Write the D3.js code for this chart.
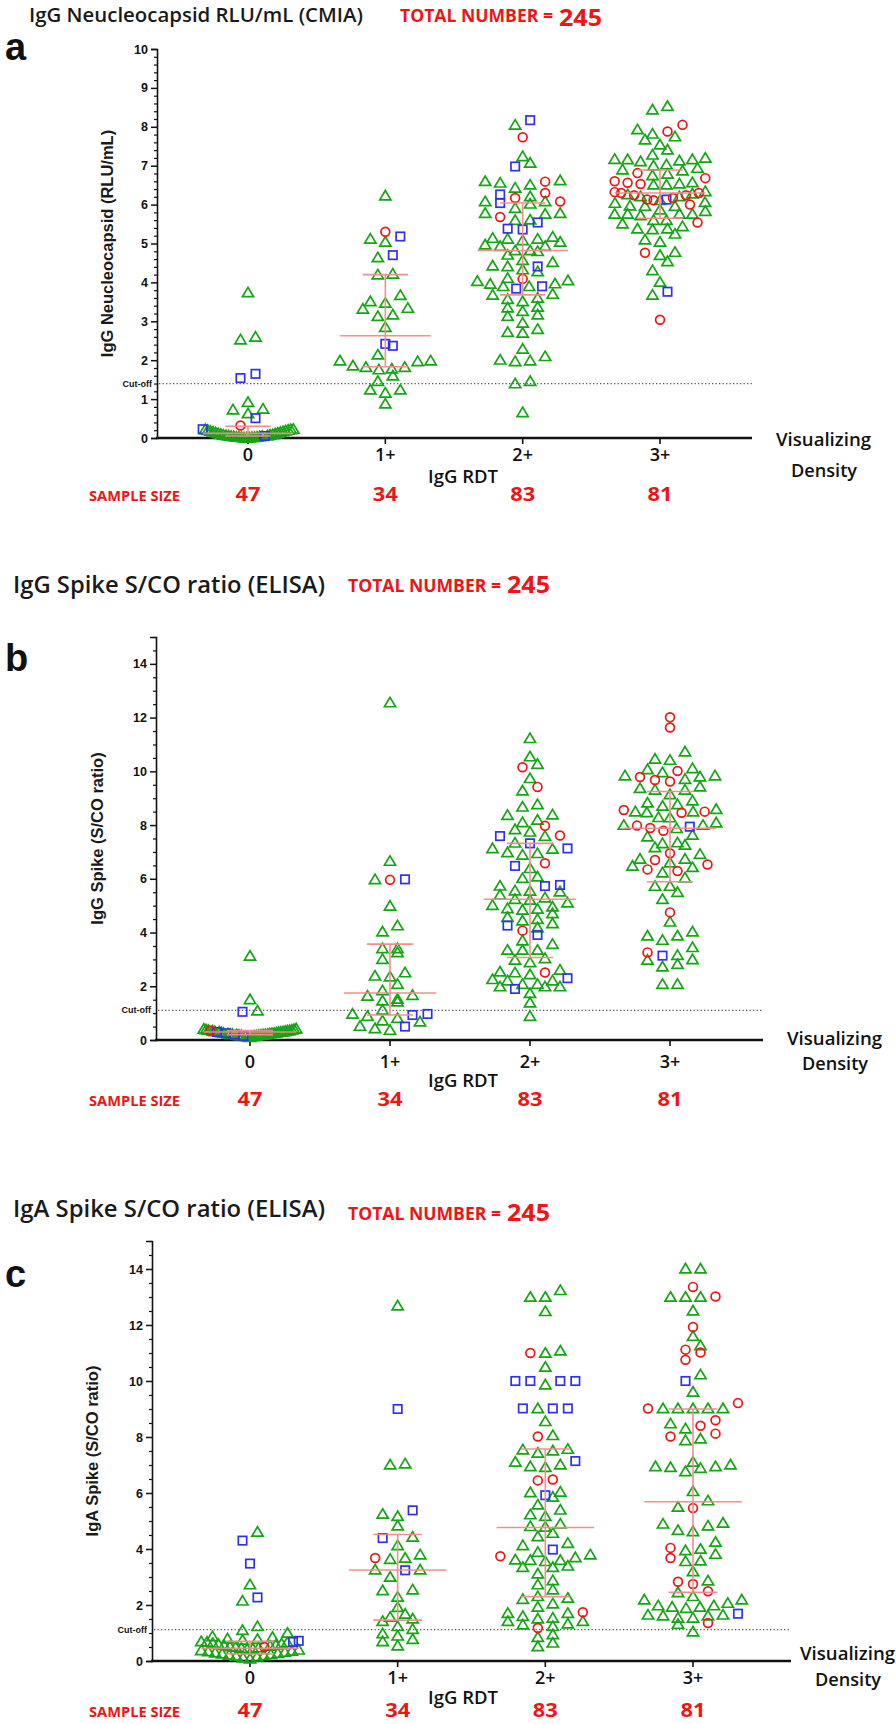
<!DOCTYPE html>
<html><head><meta charset="utf-8">
<script src="https://cdn.jsdelivr.net/npm/d3@7"></script>
<style>body{margin:0;background:#fff} svg{display:block;background:#fff}</style>
</head><body>
<svg id="chart" width="896" height="1724"></svg>
<script>
// ---------------- DATA ----------------
const categories = ["0", "1+", "2+", "3+"];
const sampleSizes = [47, 34, 83, 81];
const totalNumber = 245;

// Panel a: IgG Nucleocapsid (RLU/mL)
const nucTicks = [0,1,2,3,4,5,6,7,8,9,10];
const nucCutoff = 1.4;
const nucTriangles = [
  [3.74,2.6,2.53,0.92,0.75,0.73,0.63,
   0.23,0.22,0.22,0.21,0.2,0.19,0.18,0.17,0.16,0.15,0.14,0.13,0.12,0.11,0.1,0.09,0.08,0.08,0.07,0.06,
   0.06,0.05,0.05,0.04,0.04,0.03,0.03,0.03,0.02,0.02,0.02,0.01,0.01,0.01],
  [6.23,5.12,5.04,4.64,4.22,4.2,3.67,3.51,3.47,3.34,3.32,3.17,3.13,2.85,2.14,1.99,1.99,1.97,1.86,1.82,
   1.82,1.78,1.76,1.6,1.46,1.24,1.24,1.16,0.88],
  [8.05,7.24,7.07,6.6,6.56,6.43,6.51,6.62,6.21,6.08,6.02,6.08,5.91,5.78,5.76,5.78,5.61,5.6,5.14,5.12,
   5.04,5.08,5.12,5.17,4.97,4.93,4.82,4.71,4.8,4.82,4.93,4.57,4.43,4.28,4.33,4.41,4.52,4.03,3.96,3.9,
   3.9,3.97,4.05,4.11,3.7,3.68,3.6,3.51,3.57,3.37,3.35,3.26,3.13,3.17,2.96,2.8,2.7,2.72,2.29,2.01,
   1.97,1.99,2.1,1.4,1.46,0.66],
  [8.44,8.53,7.75,7.93,7.82,7.67,7.54,7.41,7.17,7.16,7.11,7.2,7.28,7.13,7.16,7.0,6.9,6.94,7.03,6.87,
   6.79,6.75,6.51,6.51,6.54,6.57,6.26,6.21,6.34,6.28,6.06,6.04,6.11,6.21,5.96,5.87,5.96,5.97,5.76,5.76,
   5.72,5.76,5.76,5.83,5.6,5.51,5.38,5.36,5.38,5.44,5.6,5.25,5.04,5.1,4.7,4.78,4.54,4.31,4.01,3.68]
];
const nucSquares = [
  [1.65,1.54,0.51,0.225,0.05],
  [5.18,4.7,2.42,2.37],
  [8.17,6.98,6.26,6.04,5.54,5.38,5.36,4.41,3.9,3.84],
  [6.13,3.76]
];
const nucCircles = [
  [0.32],
  [5.3],
  [7.73,6.59,6.3,6.17,6.08,5.68,4.09],
  [8.05,7.88,6.81,6.68,6.6,6.56,6.53,6.32,6.3,6.3,6.24,6.13,6.17,6.24,6.0,6.11,5.54,4.76,3.04]
];
const nucMedian = [0.12, 2.63, 4.82, 6.3];
const nucQ1 = [0.05, 1.83, 3.68, 5.65];
const nucQ3 = [0.3, 4.2, 6.04, 6.89];

// Panel b: IgG Spike (S/CO ratio)
const sgTicks = [0,2,4,6,8,10,12,14];
const sgCutoff = 1.1;
const sgTriangles = [
  [3.13,1.51,1.09,
   0.42,0.41,0.4,0.39,0.38,0.37,0.36,0.35,0.34,0.33,0.32,0.31,0.3,0.3,0.29,0.28,0.27,0.26,0.26,0.25,
   0.24,0.24,0.23,0.22,0.22,0.21,0.2,0.2,0.19,0.18,0.18,0.17,0.16,0.15,0.14,0.13,0.12,0.1],
  [12.56,6.66,5.98,4.99,4.26,4.03,3.41,3.26,3.41,3.01,2.39,2.36,2.51,2.08,1.67,1.53,1.43,1.46,1.64,1.84,
   1.12,0.97,0.89,0.81,0.68,0.72,0.37,0.43,0.52],
  [11.23,10.55,10.27,9.74,9.28,8.68,8.77,8.37,8.39,8.19,8.1,7.75,7.84,7.59,7.34,6.98,6.89,6.95,7.11,7.13,
   6.39,6.02,6.08,5.74,5.55,5.52,5.56,5.4,5.21,5.3,5.11,5.24,5.02,4.88,4.84,4.9,4.96,4.71,4.57,4.5,
   4.44,4.18,4.34,3.7,3.57,3.35,3.35,3.35,3.04,2.98,2.89,2.54,2.61,2.44,2.51,2.21,2.26,2.08,1.99,1.99,
   1.99,2.08,2.21,1.74,1.39,0.89],
  [10.73,10.42,10.46,10.11,10.07,9.71,9.84,9.8,9.84,9.96,9.31,9.37,9.43,9.31,9.14,8.91,8.77,8.71,8.83,8.59,
   8.5,8.47,8.5,8.28,8.29,8.09,8.0,8.0,7.88,7.57,7.63,7.35,7.26,7.32,7.17,6.74,6.43,6.6,6.74,6.92,
   6.48,6.23,6.04,5.73,5.73,5.5,5.24,4.4,3.88,3.72,3.88,4.03,3.45,3.0,3.16,2.98,2.73,2.82,2.08,2.08]
];
const sgSquares = [
  [1.05,0.3,0.25,0.2,0.15],
  [5.98,0.97,0.93,0.5],
  [7.59,7.32,7.13,6.48,5.77,5.73,4.26,3.91,2.3,1.9],
  [7.94,3.14]
];
const sgCircles = [
  [0.35],
  [5.96],
  [10.15,9.42,7.97,7.61,6.58,4.07,2.51],
  [12.01,11.63,10.01,9.62,9.68,9.79,8.5,8.46,8.56,7.98,7.89,7.79,6.95,6.7,6.53,6.29,6.35,4.75,3.26]
];
const sgMedian = [0.3, 1.75, 5.24, 7.88];
const sgQ1 = [0.2, 0.93, 3.07, 5.89];
const sgQ3 = [0.35, 3.57, 7.32, 9.25];

// Panel c: IgA Spike (S/CO ratio)
const saTicks = [0,2,4,6,8,10,12,14];
const saCutoff = 1.12;
const saTriangles = [
  [4.61,2.73,2.15,1.24,1.1,1.0,0.88,0.85,0.8,0.78,0.75,0.7,0.68,0.66,0.64,0.62,0.6,0.58,0.56,0.54,
   0.52,0.5,0.48,0.46,0.44,0.42,0.4,0.38,0.36,0.34,0.32,0.3,0.28,0.26,0.24,0.22,0.2,0.18,0.15,0.12,0.08],
  [12.69,7.01,7.05,5.17,5.25,4.83,4.43,4.13,3.68,3.64,3.8,3.26,3.26,3.0,2.55,2.52,2.29,1.92,1.57,1.68,
   1.24,1.42,1.51,1.14,0.98,0.9,0.78,0.7,0.55],
  [13.24,13.0,13.0,12.49,11.08,11.0,10.5,9.87,9.02,8.56,8.06,7.55,7.43,7.51,7.57,7.01,6.92,6.95,7.11,6.02,
   5.86,6.04,5.58,5.4,5.23,5.17,4.9,4.79,4.81,4.45,4.57,4.13,4.21,3.8,3.7,3.6,3.56,3.6,3.62,3.89,
   3.35,3.35,3.4,3.12,2.88,2.73,2.55,2.25,2.21,2.31,1.93,2.05,1.71,1.6,1.54,1.51,1.71,1.42,1.33,1.24,
   1.42,1.3,0.95,0.85,0.65,0.52],
  [14.01,14.01,13.0,13.0,13.0,12.51,11.6,11.27,10.23,9.61,9.02,9.02,9.02,9.02,9.02,8.3,8.48,7.88,7.94,7.11,
   6.95,6.92,6.77,6.89,6.95,7.01,6.06,5.73,5.5,4.93,4.83,4.63,4.67,4.9,4.25,3.95,4.0,3.82,3.56,3.58,
   3.2,2.87,2.45,2.19,1.93,2.07,1.98,1.98,2.19,2.31,1.89,1.93,1.65,1.54,1.54,1.62,1.62,1.65,1.05,1.32]
];
const saSquares = [
  [4.3,3.48,2.27,0.72,0.68],
  [9.0,5.38,4.39,3.24],
  [10.0,10.0,10.0,10.0,9.02,9.02,9.02,7.14,5.92,3.98],
  [10.0,1.69]
];
const saCircles = [
  [0.5],
  [3.68],
  [11.0,8.02,6.48,6.45,3.74,1.74,1.18],
  [13.36,13.02,11.93,11.12,11.02,10.76,9.21,9.02,8.6,8.4,8.02,8.12,5.46,4.04,3.68,2.75,2.83,2.49,1.36]
];
const saMedian = [0.45, 3.25, 4.77, 5.69];
const saQ1 = [0.25, 1.46, 2.3, 2.45];
const saQ3 = [0.7, 4.52, 7.57, 9.0];

// ---------------- LAYOUT / STYLE ----------------
const GREEN = "#14a514", BLUE = "#3030ee", RED = "#ee1515", PINK = "#f38a8a";
const CAL = "'Open Sans', 'Noto Sans', sans-serif";
const ARIAL = "'Liberation Sans', Arial, sans-serif";

const panels = [
  {letter:"a", title:"IgG Neucleocapsid RLU/mL (CMIA)", yLabel:"IgG Neucleocapsid (RLU/mL)",
   tri:nucTriangles, sq:nucSquares, ci:nucCircles, med:nucMedian, q1:nucQ1, q3:nucQ3,
   ticks:nucTicks, cutoff:nucCutoff, yMax:10, minorStep:0.2,
   axisX:157, xEnd:752, y0:438, yTop:49, catRange:[248,660],
   titleX:29, titleY:22, titleW:334, titleFont:20, totalX:400, totalY:22, numY:26, letterY:60,
   yLabelX:113, catY:461, rdtY:483, ssY:501, visX:776, visY:446, denY:477},
  {letter:"b", title:"IgG Spike S/CO ratio (ELISA)", yLabel:"IgG Spike (S/CO ratio)",
   tri:sgTriangles, sq:sgSquares, ci:sgCircles, med:sgMedian, q1:sgQ1, q3:sgQ3,
   ticks:sgTicks, cutoff:sgCutoff, yMax:15, minorStep:0.5,
   axisX:156, xEnd:763, y0:1040, yTop:637, catRange:[250,670],
   titleX:13, titleY:593, titleW:312, titleFont:23, totalX:348, totalY:592, numY:593, letterY:671,
   yLabelX:103, catY:1068, rdtY:1087, ssY:1106, visX:787, visY:1045, denY:1070},
  {letter:"c", title:"IgA Spike S/CO ratio (ELISA)", yLabel:"IgA Spike (S/CO ratio)",
   tri:saTriangles, sq:saSquares, ci:saCircles, med:saMedian, q1:saQ1, q3:saQ3,
   ticks:saTicks, cutoff:saCutoff, yMax:15, minorStep:0.5,
   axisX:152, xEnd:791, y0:1661, yTop:1241, catRange:[250,693],
   titleX:13, titleY:1217, titleW:312, titleFont:23, totalX:348, totalY:1220, numY:1221, letterY:1287,
   yLabelX:98, catY:1684, rdtY:1704, ssY:1717, visX:800, visY:1660, denY:1686}
];

const svg = d3.select("#chart");
svg.append("rect").attr("width",896).attr("height",1724).attr("fill","#fff");

function swarm(points, y, cx, maxHalf, spacing, rowH) {
  const sorted = points.slice().sort((a,b) => a.v - b.v);
  const rows = [];
  let cur = null;
  sorted.forEach(p => {
    const py = y(p.v);
    if (!cur || cur.start - py >= rowH) { cur = {start: py, pts: []}; rows.push(cur); }
    cur.pts.push(p);
  });
  rows.forEach(r => {
    const n = r.pts.length;
    const s = n > 1 ? Math.min(spacing, 2 * maxHalf / (n - 1)) : 0;
    const offs = d3.range(n).map(k => (k - (n - 1) / 2) * s);
    offs.sort((a,b) => (Math.abs(a) - Math.abs(b)) || (a - b));
    r.pts.forEach((p, i) => { p.x = cx + offs[i]; p.y = y(p.v); });
  });
  return sorted;
}

const triPath = "M0,-5.2L5.6,4.2L-5.6,4.2Z";

panels.forEach(P => {
  const g = svg.append("g");
  const y = d3.scaleLinear().domain([0, P.yMax]).range([P.y0, P.yTop]);
  const x = d3.scalePoint().domain(categories).range(P.catRange);
  const step = x.step();

  // Titles
  g.append("text").attr("x", P.titleX).attr("y", P.titleY)
    .attr("font-family", CAL).attr("font-weight", 600).attr("font-size", P.titleFont)
    .attr("fill", "#1a1a1a").attr("textLength", P.titleW).attr("lengthAdjust", "spacingAndGlyphs")
    .text(P.title);
  g.append("text").attr("x", P.totalX).attr("y", P.totalY)
    .attr("font-family", CAL).attr("font-weight", 700).attr("font-size", 17)
    .attr("fill", RED).attr("textLength", 153).attr("lengthAdjust", "spacingAndGlyphs")
    .text("TOTAL NUMBER =");
  g.append("text").attr("x", P.totalX + 159).attr("y", P.numY)
    .attr("font-family", CAL).attr("font-weight", 700).attr("font-size", 24)
    .attr("fill", RED).attr("textLength", 43).attr("lengthAdjust", "spacingAndGlyphs")
    .text(totalNumber);
  g.append("text").attr("x", 5).attr("y", P.letterY)
    .attr("font-family", ARIAL).attr("font-weight", 700).attr("font-size", 38)
    .attr("fill", "#111").text(P.letter);

  // Y axis
  const yAxis = d3.axisLeft(y).tickValues(P.ticks).tickSize(6).tickPadding(3).tickFormat(d3.format("d"));
  const ya = g.append("g").attr("transform", `translate(${P.axisX},0)`).call(yAxis);
  ya.select(".domain").attr("stroke", "#111").attr("stroke-width", 1.6);
  ya.selectAll(".tick line").attr("stroke", "#111").attr("stroke-width", 1.5);
  ya.selectAll(".tick text").attr("font-family", ARIAL).attr("font-weight", 700)
    .attr("font-size", 12.5).attr("fill", "#111");
  const minors = d3.range(0, P.yMax + 1e-6, P.minorStep).filter(v => !P.ticks.some(t => Math.abs(t - v) < 1e-6));
  const yMinor = d3.axisLeft(y).tickValues(minors).tickSize(3).tickFormat("");
  const ym = g.append("g").attr("transform", `translate(${P.axisX},0)`).call(yMinor);
  ym.select(".domain").remove();
  ym.selectAll(".tick line").attr("stroke", "#111").attr("stroke-width", 1.2);

  g.append("text").attr("transform", `translate(${P.yLabelX},${(P.y0 + P.yTop) / 2}) rotate(-90)`)
    .attr("text-anchor", "middle").attr("font-family", ARIAL).attr("font-weight", 700)
    .attr("font-size", 16.5).attr("fill", "#1a1a1a").text(P.yLabel);

  // X axis
  g.append("line").attr("x1", P.axisX - 1).attr("x2", P.xEnd).attr("y1", P.y0).attr("y2", P.y0)
    .attr("stroke", "#111").attr("stroke-width", 2.6);
  g.selectAll(".xt").data(categories).join("line")
    .attr("x1", d => x(d)).attr("x2", d => x(d)).attr("y1", P.y0).attr("y2", P.y0 + 6)
    .attr("stroke", "#111").attr("stroke-width", 1.6);
  g.selectAll(".xl").data(categories).join("text")
    .attr("x", d => x(d)).attr("y", P.catY).attr("text-anchor", "middle")
    .attr("font-family", CAL).attr("font-weight", 600).attr("font-size", 18).attr("fill", "#111")
    .text(d => d);
  g.append("text").attr("x", 463).attr("y", P.rdtY).attr("text-anchor", "middle")
    .attr("font-family", CAL).attr("font-weight", 600).attr("font-size", 18).attr("fill", "#111")
    .attr("textLength", 70).attr("lengthAdjust", "spacingAndGlyphs").text("IgG RDT");
  g.append("text").attr("x", 89).attr("y", P.ssY)
    .attr("font-family", CAL).attr("font-weight", 700).attr("font-size", 14).attr("fill", RED)
    .attr("textLength", 91).attr("lengthAdjust", "spacingAndGlyphs").text("SAMPLE SIZE");
  g.selectAll(".ss").data(sampleSizes).join("text")
    .attr("x", (d,i) => x(categories[i])).attr("y", P.ssY).attr("text-anchor", "middle")
    .attr("font-family", CAL).attr("font-weight", 700).attr("font-size", 20).attr("fill", RED)
    .attr("textLength", 25).attr("lengthAdjust", "spacingAndGlyphs").text(d => d);
  g.append("text").attr("x", P.visX).attr("y", P.visY)
    .attr("font-family", CAL).attr("font-weight", 600).attr("font-size", 18).attr("fill", "#111")
    .attr("textLength", 95).attr("lengthAdjust", "spacingAndGlyphs").text("Visualizing");
  g.append("text").attr("x", P.visX + 48).attr("y", P.denY).attr("text-anchor", "middle")
    .attr("font-family", CAL).attr("font-weight", 600).attr("font-size", 18).attr("fill", "#111")
    .attr("textLength", 66).attr("lengthAdjust", "spacingAndGlyphs").text("Density");

  // Cut-off
  g.append("line").attr("x1", P.axisX + 2).attr("x2", P.xEnd).attr("y1", y(P.cutoff)).attr("y2", y(P.cutoff))
    .attr("stroke", "#555").attr("stroke-width", 1.2).attr("stroke-dasharray", "1.3,2.2");
  g.append("text").attr("x", P.axisX - 5).attr("y", y(P.cutoff) + 3).attr("text-anchor", "end")
    .attr("font-family", ARIAL).attr("font-weight", 700).attr("font-size", 9).attr("fill", "#111")
    .text("Cut-off");

  // Points
  const maxHalf = step * 0.33;
  categories.forEach((c, i) => {
    const pts = [];
    P.tri[i].forEach(v => pts.push({v, s:"t"}));
    P.sq[i].forEach(v => pts.push({v, s:"s"}));
    P.ci[i].forEach(v => pts.push({v, s:"c"}));
    const laid = swarm(pts, y, x(c), maxHalf, 15, 9);
    g.selectAll(null).data(laid.filter(p => p.s === "t")).join("path")
      .attr("d", triPath).attr("transform", p => `translate(${p.x},${p.y})`)
      .attr("fill", "none").attr("stroke", GREEN).attr("stroke-width", 1.7);
    g.selectAll(null).data(laid.filter(p => p.s === "s")).join("rect")
      .attr("x", p => p.x - 4.2).attr("y", p => p.y - 4.2).attr("width", 8.4).attr("height", 8.4)
      .attr("fill", "none").attr("stroke", BLUE).attr("stroke-width", 1.7);
    g.selectAll(null).data(laid.filter(p => p.s === "c")).join("circle")
      .attr("cx", p => p.x).attr("cy", p => p.y).attr("r", 4.4)
      .attr("fill", "none").attr("stroke", RED).attr("stroke-width", 1.7);

    // median + IQR
    const cx = x(c);
    const mw = step * 0.33, cw = step * 0.165;
    const lg = g.append("g").attr("stroke", PINK).attr("stroke-width", 1.6).attr("opacity", 0.95);
    lg.append("line").attr("x1", cx - mw).attr("x2", cx + mw).attr("y1", y(P.med[i])).attr("y2", y(P.med[i]));
    lg.append("line").attr("x1", cx - cw).attr("x2", cx + cw).attr("y1", y(P.q1[i])).attr("y2", y(P.q1[i]));
    lg.append("line").attr("x1", cx - cw).attr("x2", cx + cw).attr("y1", y(P.q3[i])).attr("y2", y(P.q3[i]));
    lg.append("line").attr("x1", cx).attr("x2", cx).attr("y1", y(P.q1[i])).attr("y2", y(P.q3[i]));
  });
});
</script>
</body></html>
